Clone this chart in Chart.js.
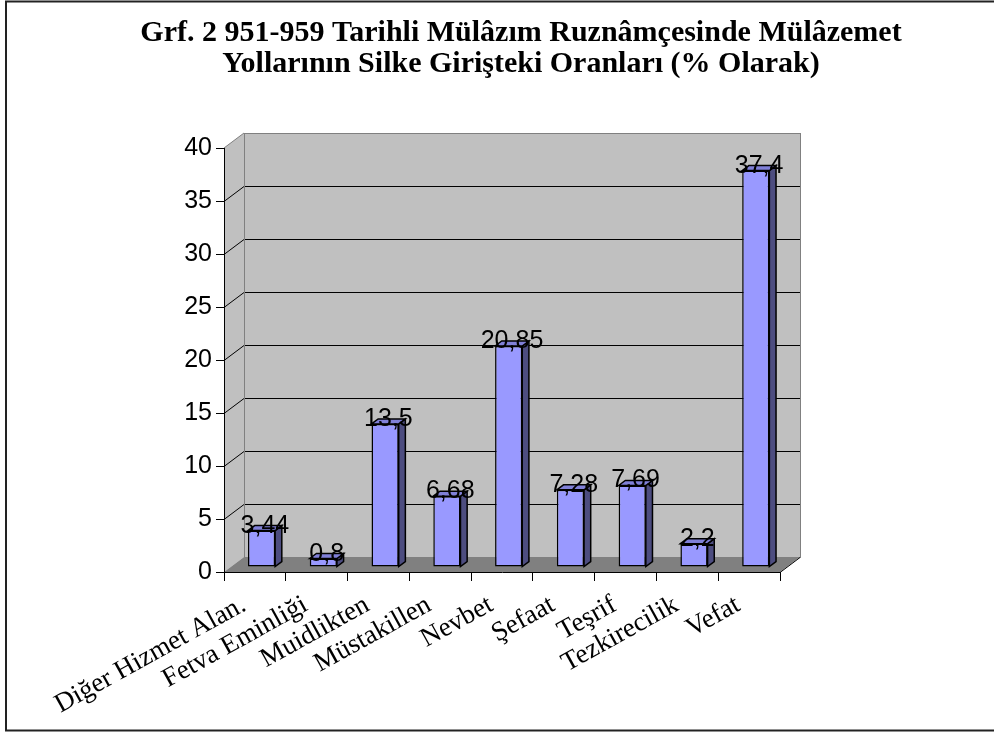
<!DOCTYPE html>
<html>
<head>
<meta charset="utf-8">
<script src="https://cdn.jsdelivr.net/npm/chart.js@4.4.0/dist/chart.umd.min.js"></script>
<style>
  html, body { margin: 0; padding: 0; background: #fff; }
  #wrap { width: 994px; height: 733px; position: relative; }
</style>
</head>
<body>
<div id="wrap"><canvas id="chartGrf" width="994" height="733"></canvas></div>
<script>
const categories = ['Diğer Hizmet Alan.', 'Fetva Eminliği', 'Muidlikten', 'Müstakillen', 'Nevbet', 'Şefaat', 'Teşrif', 'Tezkirecilik', 'Vefat'];
const values = [3.44, 0.8, 13.5, 6.68, 20.85, 7.28, 7.69, 2.2, 37.4];
const yMin = 0;
const yMax = 40;
const yStep = 5;
const titleLines = ['Grf. 2 951-959 Tarihli Mülâzım Ruznâmçesinde Mülâzemet', 'Yollarının Silke Girişteki Oranları (% Olarak)'];

const SERIF = "'Times New Roman', 'Liberation Serif', serif";
const SANS = "Arial, 'Liberation Sans', sans-serif";

// 3B derinlik
const dx = 20, dy = 15;
const barDx = dx / 3, barDy = dy / 3;

function fmt(v) { return String(v).replace('.', ','); }

function poly(ctx, pts) {
    ctx.beginPath();
    ctx.moveTo(pts[0][0], pts[0][1]);
    for (let i = 1; i < pts.length; i++) ctx.lineTo(pts[i][0], pts[i][1]);
    ctx.closePath();
}

function line(ctx, x1, y1, x2, y2) {
    ctx.beginPath();
    ctx.moveTo(x1, y1);
    ctx.lineTo(x2, y2);
    ctx.stroke();
}

const wallsPlugin = {
    id: 'walls',
    beforeDraw(chart) {
        const { ctx, chartArea: a, scales: { y } } = chart;
        ctx.save();
        ctx.fillStyle = '#fff';
        ctx.fillRect(0, 0, chart.width, chart.height);
        ctx.strokeStyle = '#222';
        ctx.lineWidth = 2;
        ctx.strokeRect(6, 1.5, 1000, 729);

        // sol duvar + arka duvar
        ctx.fillStyle = '#c0c0c0';
        poly(ctx, [[a.left, a.top], [a.left + dx, a.top - dy], [a.left + dx, a.bottom - dy], [a.left, a.bottom]]);
        ctx.fill();
        ctx.fillRect(a.left + dx, a.top - dy, a.right - a.left, a.bottom - a.top);

        // zemin
        ctx.fillStyle = '#808080';
        poly(ctx, [[a.left, a.bottom], [a.left + dx, a.bottom - dy], [a.right + dx, a.bottom - dy], [a.right, a.bottom]]);
        ctx.fill();

        // kılavuz çizgileri
        ctx.strokeStyle = '#000';
        ctx.lineWidth = 1;
        y.ticks.forEach(t => {
            if (t.value <= yMin || t.value >= yMax) return;
            const py = Math.round(y.getPixelForValue(t.value)) + 0.5;
            line(ctx, a.left, py, a.left + dx, py - dy);
            line(ctx, a.left + dx, py - dy, a.right + dx, py - dy);
        });

        // duvar kenarları
        ctx.strokeStyle = '#808080';
        line(ctx, a.left, a.top, a.left + dx, a.top - dy);
        ctx.strokeRect(a.left + dx + 0.5, a.top - dy + 0.5, a.right - a.left, a.bottom - a.top);
        ctx.strokeStyle = '#000';
        line(ctx, a.right, a.bottom + 0.5, a.right + dx, a.bottom - dy + 0.5);
        ctx.restore();
    }
};

const bars3dPlugin = {
    id: 'bars3d',
    beforeDatasetsDraw(chart) {
        chart.ctx.save();
        chart.ctx.translate(barDx, -barDy);
    },
    afterDatasetsDraw(chart) {
        const ctx = chart.ctx;
        const meta = chart.getDatasetMeta(0);
        ctx.lineWidth = 1.5;
        ctx.strokeStyle = '#000';
        meta.data.forEach(bar => {
            const { x, y, base, width } = bar.getProps(['x', 'y', 'base', 'width'], true);
            const l = x - width / 2, r = x + width / 2;
            ctx.fillStyle = '#4d4d80';
            poly(ctx, [[r, y], [r + barDx, y - barDy], [r + barDx, base - barDy], [r, base]]);
            ctx.fill(); ctx.stroke();
            ctx.fillStyle = '#8080d8';
            poly(ctx, [[l, y], [l + barDx, y - barDy], [r + barDx, y - barDy], [r, y]]);
            ctx.fill(); ctx.stroke();
        });
        ctx.restore();

        ctx.save();
        ctx.fillStyle = '#000';
        ctx.font = '25px ' + SANS;
        ctx.textAlign = 'center';
        ctx.textBaseline = 'alphabetic';
        meta.data.forEach((bar, i) => {
            ctx.fillText(fmt(values[i]), bar.x + barDx * 1.5, bar.y - barDy + 2);
        });
        ctx.restore();
    }
};

const ctx = document.getElementById('chartGrf').getContext('2d');
new Chart(ctx, {
    type: 'bar',
    data: {
        labels: categories,
        datasets: [{
            data: values,
            backgroundColor: '#9999ff',
            borderColor: '#000',
            borderWidth: 1.5,
            borderSkipped: false,
            barPercentage: 1,
            categoryPercentage: 0.44,
            clip: false
        }]
    },
    options: {
        responsive: false,
        animation: false,
        devicePixelRatio: 1,
        layout: { padding: { left: 48, right: 0, top: 4, bottom: 0 } },
        plugins: {
            legend: { display: false },
            tooltip: { enabled: false },
            title: {
                display: true,
                text: titleLines,
                color: '#000',
                font: { family: SERIF, size: 30, weight: 'bold', lineHeight: 1.05 },
                padding: { top: 13, bottom: 68 }
            }
        },
        scales: {
            x: {
                offset: true,
                grid: { offset: true, drawOnChartArea: false, tickLength: 9, color: '#000' },
                border: { display: true, color: '#000' },
                ticks: {
                    color: '#000',
                    font: { family: SERIF, size: 27 },
                    minRotation: 29,
                    maxRotation: 29,
                    autoSkip: false,
                    padding: 8,
                    labelOffset: -11
                },
                afterFit(s) { s.height = 161; }
            },
            y: {
                min: yMin,
                max: yMax,
                ticks: { stepSize: yStep, color: '#000', font: { family: SANS, size: 25 }, padding: 4 },
                grid: { drawOnChartArea: false, tickLength: 8, color: '#000' },
                border: { display: true, color: '#000' },
                afterFit(s) { s.width = 176; }
            },
            yBos: {
                position: 'right',
                display: true,
                ticks: { display: false },
                grid: { display: false },
                border: { display: false },
                afterFit(s) { s.width = 214; }
            }
        }
    },
    plugins: [wallsPlugin, bars3dPlugin]
});
</script>
</body>
</html>
